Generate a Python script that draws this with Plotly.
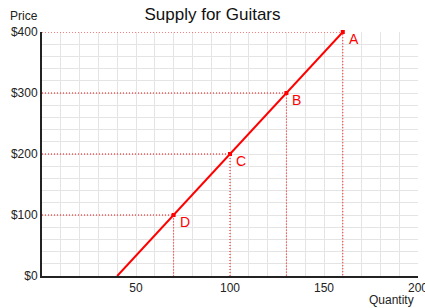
import plotly.graph_objects as go

# Supply curve endpoints
curve_qty = [40, 160]
curve_price = [0, 400]

# Labelled points
point_labels = ["A", "B", "C", "D"]
point_qty = [160, 130, 100, 70]
point_price = [400, 300, 200, 100]

x_tick_vals = [50, 100, 150, 200]
y_tick_vals = [0, 100, 200, 300, 400]
y_tick_text = ["$0", "$100", "$200", "$300", "$400"]

RED = "#ff0000"
fig = go.Figure()

# dotted guide lines
for q, p in zip(point_qty, point_price):
    fig.add_trace(go.Scatter(x=[0, q, q], y=[p, p, 0], mode="lines",
                             line=dict(color=RED, width=1, dash="1px,2px"),
                             hoverinfo="skip", showlegend=False, cliponaxis=False))

fig.add_trace(go.Scatter(x=curve_qty, y=curve_price, mode="lines",
                         line=dict(color=RED, width=2), showlegend=False))

fig.add_trace(go.Scatter(x=point_qty, y=point_price, mode="markers",
                         marker=dict(color=RED, size=4, symbol="square"),
                         showlegend=False, cliponaxis=False))

annotations = [
    dict(text="Price", xref="paper", yref="paper", x=-0.09, y=1.03,
         xanchor="left", yanchor="bottom", showarrow=False, font=dict(size=12, color="#222")),
    dict(text="Quantity", xref="paper", yref="paper", x=0.995, y=-0.06,
         xanchor="right", yanchor="top", showarrow=False, font=dict(size=12, color="#222")),
]
for lab, q, p in zip(point_labels, point_qty, point_price):
    annotations.append(dict(text=lab, x=q, y=p, xref="x", yref="y", showarrow=False,
                            xanchor="left", yanchor="middle", xshift=4, yshift=-7,
                            font=dict(size=14, color=RED)))

fig.update_layout(
    width=425, height=308,
    margin=dict(l=42, r=7, t=32, b=32),
    paper_bgcolor="white", plot_bgcolor="white",
    font=dict(family="Liberation Sans, Arial", color="#222", size=12),
    title=dict(text="Supply for Guitars", x=0.5, xanchor="center", y=0.975, yanchor="top",
               font=dict(size=17, color="#111")),
    annotations=annotations,
)
fig.update_xaxes(range=[0, 200], tickvals=x_tick_vals, showgrid=True, gridcolor="#e4e4e4",
                 gridwidth=1, minor=dict(dtick=10, showgrid=True, gridcolor="#e4e4e4"),
                 showline=True, linecolor="#222", linewidth=2, zeroline=False, automargin=False,
                 ticks="", tickfont=dict(size=12), fixedrange=True, ticklabeloverflow="allow")
fig.update_yaxes(range=[0, 400], tickvals=y_tick_vals, ticktext=y_tick_text, showgrid=True,
                 gridcolor="#e4e4e4", minor=dict(dtick=20, showgrid=True, gridcolor="#e4e4e4"),
                 showline=True, linecolor="#222", linewidth=2, zeroline=False, automargin=False,
                 ticks="", tickfont=dict(size=12), fixedrange=True)

fig.write_html("out.html", config={"displayModeBar": False},
               post_script="document.body.style.margin='0';")
